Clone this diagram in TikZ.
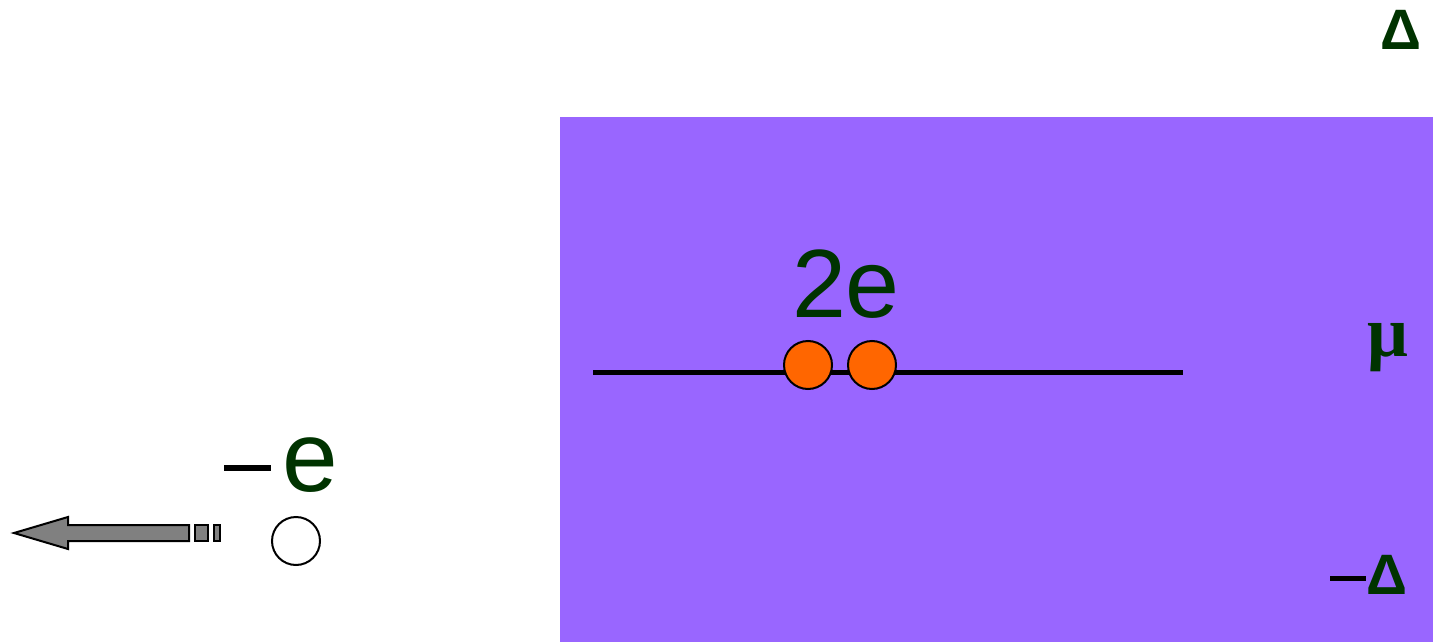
\documentclass[tikz,border=0pt]{standalone}
\usepackage{fontspec}
\setmainfont{Liberation Sans}
\newfontfamily\serifgreek{Liberation Serif}
\definecolor{bgpurple}{HTML}{9966FF}
\definecolor{dotorange}{HTML}{FF6600}
\definecolor{txtgreen}{HTML}{003300}
\definecolor{arrowgray}{HTML}{808080}
\begin{document}
\begin{tikzpicture}[x=1pt,y=-1pt,
  lbl/.style={inner sep=0pt,text=txtgreen},
  dot/.style={circle,draw=black,line width=2pt,minimum size=48pt,inner sep=0pt},
  blk/.style={fill=arrowgray,draw=black,line width=2pt}]
\useasboundingbox (0,0) rectangle (1433,642);
\fill[bgpurple] (560,117) rectangle (1433,642);
% level line
\coordinate (la) at (593,372);
\coordinate (lb) at (1183,372);
\draw[line width=5pt] (la) -- (lb);
\node[dot,fill=dotorange] (d1) at (808,365) {};
\node[dot,fill=dotorange] (d2) at (872,365) {};
\node[lbl,font=\fontsize{97}{97}\selectfont,anchor=base] (twoe) at (846,317) {2e};
% hole
\node[dot,fill=white] (hole) at (296,541) {};
\coordinate (ma) at (224,468);
\coordinate (mb) at (271,468);
\draw[line width=6pt] (ma) -- (mb);
\node[lbl,font=\fontsize{100}{100}\selectfont,anchor=base] (ee) at (310,491) {e};
% block arrow
\draw[blk,line join=miter] (14,533) -- (68,517) -- (68,525) -- (189,525) -- (189,541) -- (68,541) -- (68,549) -- cycle;
\draw[blk] (195,525) rectangle (208,541);
\draw[blk] (214,525) rectangle (220,541);
% energy labels
\node[lbl,font=\fontsize{57}{57}\selectfont\bfseries,anchor=base] (delta) at (1401,50) {Δ};
\node[lbl,font=\fontsize{72}{72}\selectfont\serifgreek\bfseries,anchor=base] (mu) at (1388,356) {μ};
\coordinate (m2a) at (1330,578);
\coordinate (m2b) at (1366,578);
\draw[line width=5pt] (m2a) -- (m2b);
\node[lbl,font=\fontsize{57}{57}\selectfont\bfseries,anchor=base] (mdelta) at (1387,594) {Δ};
\end{tikzpicture}
\end{document}
